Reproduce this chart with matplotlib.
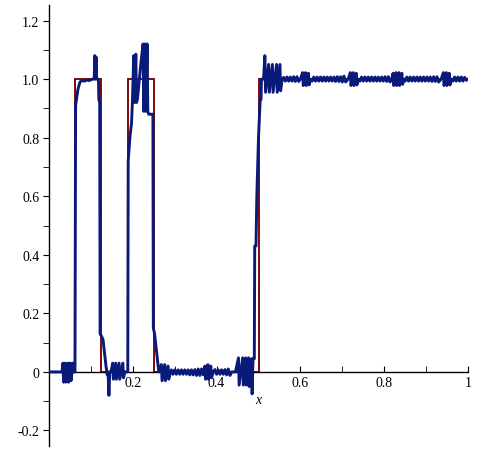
import matplotlib.pyplot as plt
import numpy as np

# exact step function (red)
red_edges = [0, 0.0625, 0.125, 0.1875, 0.25, 0.5, 1.0]
red_levels = [0, 1, 0, 1, 0, 1]

# approximation (blue)
blue_pts = [
    (0.0, 0.0), (0.031, 0.0), (0.0333, 0.03), (0.0349, -0.035), (0.0391, 0.03),
    (0.0407, -0.035), (0.0453, 0.03), (0.0469, -0.035), (0.051, 0.03), (0.0526, -0.03),
    (0.0572, 0.03), (0.0588, 0.0), (0.062, 0.0),
    (0.0635, 0.91), (0.069, 0.965), (0.074, 0.99), (0.079, 0.995), (0.085, 0.993),
    (0.090, 0.997), (0.096, 0.995), (0.104, 1.0), (0.108, 1.0), (0.1092, 1.08),
    (0.1108, 1.0), (0.1125, 1.075), (0.1135, 1.0),
    (0.118, 1.0), (0.119, 0.93), (0.121, 0.92), (0.122, 0.13), (0.126, 0.12),
    (0.129, 0.11), (0.136, 0.02), (0.139, -0.01), (0.141, 0.0), (0.143, -0.08),
    (0.145, 0.0), (0.148, 0.0), (0.152, 0.03), (0.1536, -0.025), (0.1592, 0.03),
    (0.1608, -0.025), (0.1672, 0.03), (0.1688, -0.025), (0.1762, 0.03), (0.1778, -0.02),
    (0.181, 0.0), (0.186, 0.0),
    (0.188, 0.0), (0.189, 0.72), (0.193, 0.80), (0.197, 0.85), (0.199, 0.92),
    (0.2022, 1.08), (0.2038, 0.92), (0.2072, 1.085), (0.2088, 0.92), (0.211, 0.93),
    (0.219, 1.05), (0.2245, 1.12), (0.2261, 0.89), (0.2292, 1.12), (0.2308, 0.89),
    (0.2342, 1.12), (0.2358, 0.89), (0.238, 0.88),
    (0.248, 0.88), (0.249, 0.15), (0.252, 0.13), (0.258, 0.05), (0.262, 0.0),
    (0.2682, 0.025), (0.2698, -0.03), (0.2762, 0.025), (0.2778, -0.03), (0.2842, 0.02),
    (0.2858, -0.025), (0.289, -0.005),
    (0.292, 0.007), (0.296, -0.008), (0.300, 0.007), (0.304, -0.008),
    (0.308, 0.007), (0.312, -0.008), (0.316, 0.007), (0.320, -0.008), (0.324, 0.007),
    (0.328, -0.008), (0.332, 0.007), (0.336, -0.01), (0.340, 0.007), (0.344, -0.01),
    (0.348, 0.008), (0.352, -0.012), (0.356, 0.01), (0.360, -0.012), (0.364, 0.01),
    (0.368, -0.01), (0.3722, 0.02), (0.3738, -0.025), (0.3792, 0.025), (0.3808, -0.025),
    (0.3862, 0.02), (0.3878, -0.02), (0.392, 0.0), (0.396, 0.008),
    (0.400, -0.008), (0.404, 0.007), (0.408, -0.008), (0.412, 0.007), (0.416, -0.008),
    (0.420, 0.008), (0.424, -0.01), (0.428, 0.01), (0.432, -0.012), (0.436, 0.0),
    (0.445, 0.0), (0.4522, 0.048), (0.4538, -0.045), (0.4622, 0.048), (0.4638, -0.045),
    (0.4692, 0.048), (0.4708, -0.045), (0.4762, 0.048), (0.4778, -0.05), (0.4832, 0.045),
    (0.4848, -0.075), (0.486, 0.0), (0.487, 0.045), (0.490, 0.045),
    (0.491, 0.43), (0.494, 0.43), (0.496, 0.60), (0.500, 0.80), (0.504, 0.93),
    (0.506, 0.93), (0.507, 1.0), (0.512, 1.0), (0.5152, 1.08), (0.5168, 0.955),
    (0.5242, 1.05), (0.5258, 0.955), (0.5332, 1.05), (0.5348, 0.955), (0.5432, 1.05),
    (0.5448, 0.955), (0.5512, 1.05), (0.5528, 0.96), (0.556, 0.995), (0.560, 1.006),
    (0.564, 0.993), (0.568, 1.007), (0.572, 0.993), (0.576, 1.007), (0.580, 0.993),
    (0.584, 1.008), (0.588, 0.992), (0.592, 1.008), (0.596, 0.992), (0.600, 1.0),
    (0.6052, 1.022), (0.6068, 0.978), (0.6122, 1.022), (0.6138, 0.978), (0.6192, 1.02),
    (0.6208, 0.98), (0.624, 1.0), (0.628, 0.993), (0.632, 1.007),
    (0.636, 0.993), (0.640, 1.007), (0.644, 0.993), (0.648, 1.007), (0.652, 0.993),
    (0.656, 1.007), (0.660, 0.993), (0.664, 1.007), (0.668, 0.993), (0.672, 1.007),
    (0.676, 0.993), (0.680, 1.007), (0.684, 0.992), (0.688, 1.008), (0.692, 0.992),
    (0.696, 1.008), (0.700, 0.99), (0.704, 1.01), (0.708, 0.99), (0.714, 1.0),
    (0.7192, 1.022), (0.7208, 0.978), (0.7262, 1.022), (0.7278, 0.978), (0.7332, 1.02),
    (0.7348, 0.98), (0.738, 1.0), (0.742, 0.993), (0.746, 1.007),
    (0.750, 0.993), (0.754, 1.007), (0.758, 0.993), (0.762, 1.007), (0.766, 0.993),
    (0.770, 1.007), (0.774, 0.993), (0.778, 1.007), (0.782, 0.993), (0.786, 1.007),
    (0.790, 0.993), (0.794, 1.007), (0.798, 0.993), (0.802, 1.008), (0.806, 0.992),
    (0.810, 1.008), (0.814, 0.99), (0.818, 1.0), (0.8212, 1.02), (0.8228, 0.978),
    (0.8282, 1.022), (0.8298, 0.978), (0.8352, 1.022), (0.8368, 0.978), (0.8422, 1.02),
    (0.8438, 0.982), (0.847, 1.0), (0.850, 0.993), (0.854, 1.007),
    (0.858, 0.993), (0.862, 1.007), (0.866, 0.993), (0.870, 1.007), (0.874, 0.993),
    (0.878, 1.007), (0.882, 0.993), (0.886, 1.007), (0.890, 0.993), (0.894, 1.007),
    (0.898, 0.993), (0.902, 1.007), (0.906, 0.993), (0.910, 1.007), (0.914, 0.992),
    (0.918, 1.008), (0.922, 0.992), (0.926, 1.008), (0.930, 0.99), (0.936, 1.0),
    (0.9412, 1.022), (0.9428, 0.978), (0.9482, 1.022), (0.9498, 0.978), (0.9552, 1.02),
    (0.9568, 0.98), (0.960, 1.0), (0.964, 0.993), (0.968, 1.007),
    (0.972, 0.993), (0.976, 1.007), (0.980, 0.993), (0.984, 1.007), (0.988, 0.993),
    (0.992, 1.006), (0.996, 0.996), (1.0, 1.0),
]

yticks = [-0.2, 0, 0.2, 0.4, 0.6, 0.8, 1.0, 1.2]
ytick_labels = ["-0.2", "0", "0.2", "0.4", "0.6", "0.8", "1.0", "1.2"]
xticks = [0.2, 0.4, 0.6, 0.8, 1.0]
xtick_labels = ["0.2", "0.4", "0.6", "0.8", "1"]

plt.rcParams['font.family'] = ['Liberation Serif', 'DejaVu Serif']

fig = plt.figure(figsize=(4.78, 4.52), dpi=100)
ax = fig.add_axes([49 / 478, 5 / 452, 419 / 478, 441 / 452])

ax.stairs(red_levels, red_edges, baseline=None, color='#7a0a0a', lw=1.4, zorder=2)
bx = [p[0] for p in blue_pts]
by = [p[1] for p in blue_pts]
ax.plot(bx, by, color='#0a1a7a', lw=2.1, solid_joinstyle='round', zorder=3)

ax.set_xlim(0, 1.0)
ax.set_ylim(-0.253, 1.253)

ax.spines['top'].set_visible(False)
ax.spines['right'].set_visible(False)
ax.spines['bottom'].set_position(('data', 0))
ax.spines['left'].set_linewidth(1.0)
ax.spines['bottom'].set_linewidth(1.0)

ax.set_xticks(xticks)
ax.set_xticklabels(xtick_labels)
ax.set_xticks([0.1, 0.3, 0.5, 0.7, 0.9], minor=True)
ax.set_yticks(yticks)
ax.set_yticklabels(ytick_labels)
ax.set_yticks([-0.1, 0.1, 0.3, 0.5, 0.7, 0.9, 1.1], minor=True)

ax.tick_params(axis='x', which='both', direction='in', length=4, labelsize=10, pad=3)
ax.tick_params(axis='y', which='both', direction='out', length=4, labelsize=10, pad=3)

ax.text(0.5, -0.095, "x", style='italic', fontsize=10, ha='center', va='center')

fig.savefig("out.png", dpi=100)
